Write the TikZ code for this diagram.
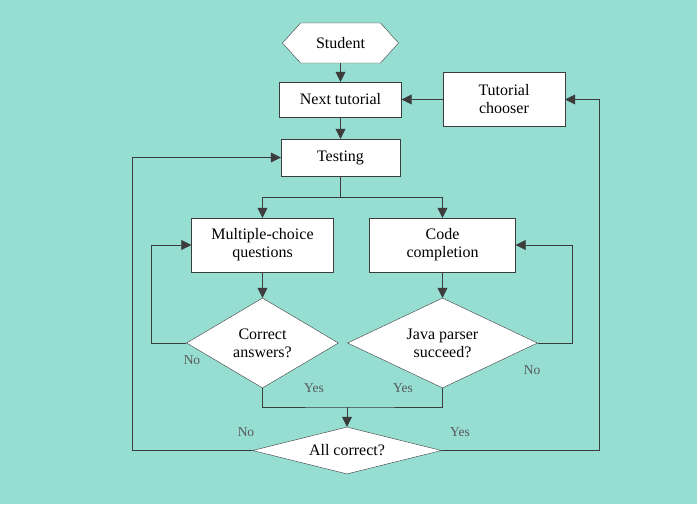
\documentclass[tikz,border=0pt]{standalone}
\usepackage{fontspec}
\setmainfont{Liberation Serif}
\usetikzlibrary{shapes.geometric,shapes.symbols,arrows.meta}
\definecolor{bgteal}{RGB}{150,221,210}
\definecolor{linegray}{RGB}{60,60,60}
\begin{document}
\begin{tikzpicture}[x=1pt,y=-1pt]

    \tikzset{
      box/.style={
        draw=linegray,
        fill=white,
        rectangle,
        align=center,
        inner sep=0pt,
        font=\fontsize{16}{18}\selectfont,
      },
      decision/.style={
        draw=linegray,
        fill=white,
        diamond,
        align=center,
        inner sep=0pt,
        font=\fontsize{16}{18}\selectfont,
      },
      answer/.style={
        text=black!65,
        font=\fontsize{13.5}{15}\selectfont,
      },
      arr/.style={
        draw=linegray,
        line width=0.7pt,
        -{Triangle[length=10pt,width=10pt]},
      },
      link/.style={
        draw=linegray,
        line width=0.7pt,
      },
    }
    \fill[bgteal] (0,0) rectangle (697,504);

	 \node[box,signal,signal to=east and west,signal pointer angle=96,
	   minimum width=116pt,minimum height=40pt] (student) at (340.5,43) {Student};
	 \node[box,minimum width=122pt,minimum height=35pt] (next) at (340.5,99.5) {Next tutorial};
	 \node[box,minimum width=122pt,minimum height=54pt] (chooser) at (504,99.5) {Tutorial\\chooser};
	 \node[box,minimum width=119pt,minimum height=37pt] (testing) at (340.5,157.5) {Testing};
	 \node[box,minimum width=142pt,minimum height=54pt] (mcq) at (262.5,245) {Multiple-choice\\questions};
	 \node[box,minimum width=146pt,minimum height=54pt] (code) at (442.5,245) {Code\\completion};
	 \node[decision,shape aspect=1.7,minimum width=152pt,minimum height=90pt] (answers) at (262.5,343) {Correct\\answers?};
	 \node[decision,shape aspect=2.1,minimum width=190pt,minimum height=90pt] (parser) at (442.5,343) {Java parser\\succeed?};
	 \node[decision,shape aspect=4,minimum width=189pt,minimum height=47pt] (allok) at (347,450.5) {All correct?};

	 \coordinate (split) at (340.5,197);
	 \coordinate (merge) at (347,407);

	 \draw[arr] (student.south) -- (next.north);
	 \draw[arr] (chooser.west) -- (next.east);
	 \draw[arr] (next.south) -- (testing.north);
	 \draw[link] (testing.south) -- (split);
	 \draw[arr] (split) -| (mcq.north);
	 \draw[arr] (split) -| (code.north);
	 \draw[arr] (mcq.south) -- (answers.north);
	 \draw[arr] (code.south) -- (parser.north);
	 \draw[arr] (answers.west) -- ++(-35,0) |- (mcq.west);
	 \draw[arr] (parser.east) -- ++(35,0) |- (code.east);
	 \draw[link] (answers.south) |- (merge) -| (parser.south);
	 \draw[arr] (merge) -- (allok.north);
	 \draw[arr] (allok.west) -- ++(-120,0) |- (testing.west);
	 \draw[arr] (allok.east) -- ++(158,0) |- (chooser.east);

	 \node[answer] (noleft) at (192,360) {No};
	 \node[answer] (yesleft) at (314,388) {Yes};
	 \node[answer] (yesright) at (403,388) {Yes};
	 \node[answer] (noright) at (532,370) {No};
	 \node[answer] (noall) at (246,432) {No};
	 \node[answer] (yesall) at (460,432) {Yes};

\end{tikzpicture}
\end{document}
